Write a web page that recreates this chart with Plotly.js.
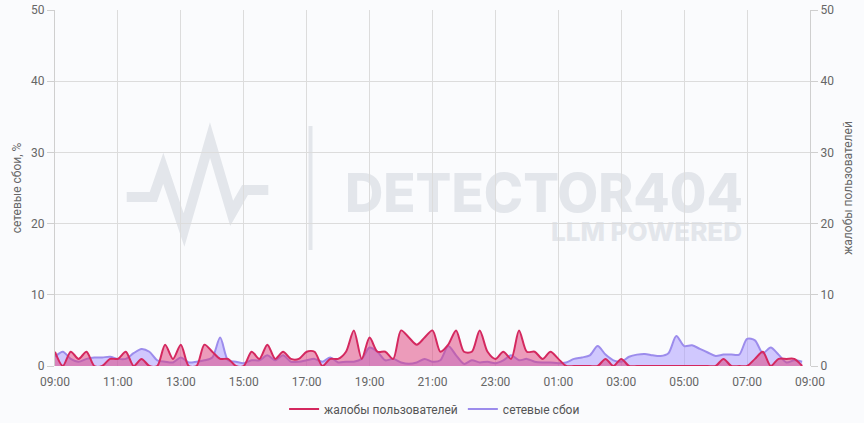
<!DOCTYPE html>
<html>
<head>
<meta charset="utf-8">
<script src="https://cdn.plot.ly/plotly-3.0.1.min.js"></script>
<style>
html,body{margin:0;padding:0;background:#fafbfd;}
#chart{width:864px;height:423px;}
</style>
</head>
<body>
<div id="chart"></div>
<script>
// 15-minute samples starting 09:00
var startTime = '2024-01-01 09:00';
var stepMinutes = 15;
var complaints = [2,0,2,1,2,0,0,1,1,2,0,1,0,0,3,1,3,0,0,3,2,1,1,0,
                  0,2,1,3,1,2,1,1,2,2,0,1,1,2,5,1,4,2,2,1,5,4,3,4,
                  5,2,3,5,2,2,5,2,1,2,1,5,2,2,1,2,1,0,0,0,0,0,1,0,
                  1,0,0,0,0,0,0,0,0,0,0,0,0,1,0,0,0,1,2,0,1,1,1,0];
var failures = [1.3,2.0,1.0,0.6,1.0,1.2,1.2,1.3,1.0,1.0,1.8,2.4,2.0,0.8,0.6,0.5,1.2,0.5,0.6,0.8,1.2,4.0,0.8,0.6,
                0.4,0.8,0.8,1.5,0.8,1.5,0.6,0.6,0.8,1.0,0.6,1.2,0.5,0.6,0.6,1.0,2.6,2.0,0.8,1.0,0.5,0.3,0.5,1.0,
                0.6,0.8,2.8,1.5,0.3,0.8,0.5,0.6,0.4,0.8,1.5,0.8,1.0,0.6,0.5,0.5,0.4,0.5,1.0,1.2,1.5,2.8,1.6,0.8,
                0.6,1.3,1.6,1.7,1.5,1.4,1.8,4.2,2.8,2.9,2.4,1.9,1.4,1.6,1.6,1.6,3.8,3.6,1.8,2.6,1.6,0.5,0.8,0.6];
var seriesNames = ['жалобы пользователей', 'сетевые сбои'];
var yLeftTitle = 'сетевые сбои, %';
var yRightTitle = 'жалобы пользователей';

function pad(n){return (n<10?'0':'')+n;}
var times = [];
var t0 = new Date(startTime.replace(' ','T')+':00');
for (var i=0;i<complaints.length;i++){
  var d = new Date(t0.getTime()+i*stepMinutes*60000);
  times.push(d.getFullYear()+'-'+pad(d.getMonth()+1)+'-'+pad(d.getDate())+' '+pad(d.getHours())+':'+pad(d.getMinutes()));
}

var W = 755, H = 356, L = 55, T = 10;
function px(x){return ((x-L)/W).toFixed(4);}
function py(y){return ((T+H-y)/H).toFixed(4);}
var wm = '#e3e6eb';
var heart = [[126.7,197],[153.3,197],[163.3,168.3],[184,230],[210,140],[231.7,213.3],[245,190],[268.3,190]];
var hp = 'M' + heart.map(function(p){return px(p[0])+','+py(p[1]);}).join(' L');

var redLine = '#d4285f', blueLine = '#9c8cec';
var traces = [
  {x: times, y: complaints, name: seriesNames[0], yaxis: 'y2', type: 'scatter', mode: 'lines',
   line: {color: redLine, width: 2, shape: 'spline', smoothing: 0.8}, showlegend: false,
   fill: 'tozeroy', fillcolor: 'rgba(222,60,120,0.5)'},
  {x: times, y: failures, name: seriesNames[1], type: 'scatter', mode: 'lines',
   line: {color: blueLine, width: 2, shape: 'spline', smoothing: 0.8}, showlegend: false,
   fill: 'tozeroy', fillcolor: 'rgba(165,150,255,0.5)'},
  {x: [null], y: [null], name: seriesNames[0], type: 'scatter', mode: 'lines',
   line: {color: redLine, width: 2}},
  {x: [null], y: [null], name: seriesNames[1], type: 'scatter', mode: 'lines',
   line: {color: blueLine, width: 2}}
];

var tickFont = {family: 'Roboto, Arial, sans-serif', size: 12, color: '#666'};
var layout = {
  width: 864, height: 423,
  margin: {l: 55, r: 54, t: 10, b: 57},
  paper_bgcolor: '#fafbfd', plot_bgcolor: 'rgba(0,0,0,0)',
  font: {family: 'Roboto, Arial, sans-serif', size: 12, color: '#666'},
  showlegend: true,
  legend: {orientation: 'h', x: 0.503, xref: 'container', xanchor: 'center',
           y: 0.033, yref: 'container', yanchor: 'middle', itemwidth: 30,
           font: {size: 12, color: '#555'}, bgcolor: 'rgba(0,0,0,0)'},
  xaxis: {type: 'date', range: ['2024-01-01 09:00', '2024-01-02 09:00'],
          dtick: 7200000, tick0: '2024-01-01 09:00', tickformat: '%H:%M',
          showgrid: true, gridcolor: '#dcdcdc', gridwidth: 1, automargin: false,
          showline: false, zeroline: false, ticks: 'outside', ticklen: 5, tickcolor: 'rgba(0,0,0,0)',
          tickfont: tickFont, fixedrange: true},
  yaxis: {range: [0, 50], dtick: 10, showgrid: true, gridcolor: '#dcdcdc', automargin: false,
          zeroline: false, showline: true, linecolor: '#cfcfcf',
          ticks: 'outside', ticklen: 7, tickcolor: '#cfcfcf', tickfont: tickFont,
          title: {text: yLeftTitle, font: {size: 12, color: '#666'}, standoff: 6}},
  yaxis2: {range: [0, 50], dtick: 10, overlaying: 'y', side: 'right', showgrid: false, automargin: false,
           zeroline: false, showline: true, linecolor: '#cfcfcf',
           ticks: 'outside', ticklen: 7, tickcolor: '#cfcfcf', tickfont: tickFont,
           title: {text: yRightTitle, font: {size: 12, color: '#666'}, standoff: 10}},
  shapes: [
    {type: 'path', xref: 'paper', yref: 'paper', layer: 'below', path: hp,
     line: {color: wm, width: 10}},
    {type: 'line', xref: 'paper', yref: 'paper', layer: 'below',
     x0: px(310.5), x1: px(310.5), y0: py(126), y1: py(250), line: {color: wm, width: 4}},
    {type: 'rect', xref: 'paper', yref: 'paper', layer: 'below',
     x0: px(340), x1: px(749), y0: py(214), y1: py(168), line: {width: 0},
     label: {text: 'DETECTOR404', textposition: 'middle right',
             font: {family: 'Inter, "DejaVu Sans", sans-serif', size: 53, color: wm, weight: 800}}},
    {type: 'rect', xref: 'paper', yref: 'paper', layer: 'below',
     x0: px(540), x1: px(748), y0: py(242), y1: py(218), line: {width: 0},
     label: {text: 'LLM POWERED', textposition: 'middle right',
             font: {family: 'Inter, "DejaVu Sans", sans-serif', size: 26, color: wm, weight: 800}}}
  ]
};
Plotly.newPlot('chart', traces, layout, {displayModeBar: false, staticPlot: true});
</script>
</body>
</html>
